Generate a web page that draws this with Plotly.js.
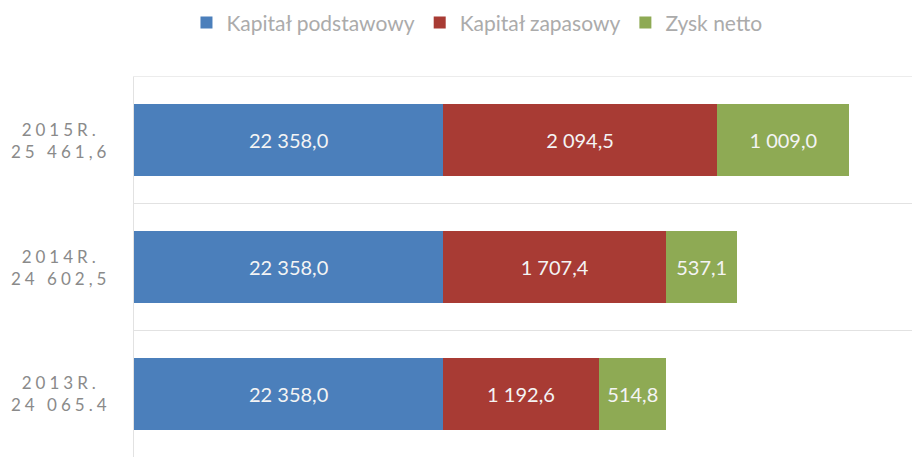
<!DOCTYPE html>
<html>
<head>
<meta charset="utf-8">
<script src="https://cdn.plot.ly/plotly-3.0.1.min.js"></script>
<style>
  html, body { margin: 0; padding: 0; background: #ffffff; }
  #chart { width: 912px; height: 457px; }
  g.annotation[data-index="3"] text.annotation-text,
  g.annotation[data-index="4"] text.annotation-text,
  g.annotation[data-index="5"] text.annotation-text { letter-spacing: 4px; }
</style>
</head>
<body>
<div id="chart"></div>
<script>
// ---- data ----
const years = ['2013R.', '2014R.', '2015R.'];
const totals = ['24 065.4', '24 602,5', '25 461,6'];
const kapitalPodstawowy = [22358.0, 22358.0, 22358.0];
const kapitalZapasowy = [1192.6, 1707.4, 2094.5];
const zyskNetto = [514.8, 537.1, 1009.0];
const seriesNames = ['Kapitał podstawowy', 'Kapitał zapasowy', 'Zysk netto'];
const colors = ['#4b7fbb', '#a83b34', '#8eaa54'];

// truncated value axis (the picture starts the axis well above zero)
const xRange = [20000, 25940];

function fmtPL(v) {
  const parts = v.toFixed(1).split('.');
  const intPart = parts[0].replace(/\B(?=(\d{3})+(?!\d))/g, ' ');
  return intPart + ',' + parts[1];
}

const textFont = { family: 'Lato, "Open Sans", sans-serif', size: 20, color: '#f4f4f4' };

const traces = [
  {
    type: 'bar', orientation: 'h', name: seriesNames[0],
    y: years, x: kapitalPodstawowy,
    marker: { color: colors[0] },
    textposition: 'none', hoverinfo: 'x+name'
  },
  {
    type: 'bar', orientation: 'h', name: seriesNames[1],
    y: years, x: kapitalZapasowy,
    marker: { color: colors[1] },
    text: kapitalZapasowy.map(fmtPL), textposition: 'inside',
    insidetextanchor: 'middle', textfont: textFont, constraintext: 'none'
  },
  {
    type: 'bar', orientation: 'h', name: seriesNames[2],
    y: years, x: zyskNetto,
    marker: { color: colors[2] },
    text: zyskNetto.map(fmtPL), textposition: 'inside',
    insidetextanchor: 'middle', textfont: textFont, constraintext: 'none'
  }
];

// labels for the truncated first segment, centred in its visible part
const valueAnnotations = years.map((y, i) => ({
  x: (xRange[0] + kapitalPodstawowy[i]) / 2,
  y: y, xref: 'x', yref: 'y',
  text: fmtPL(kapitalPodstawowy[i]),
  showarrow: false,
  font: textFont
}));

// category labels (year + total), centred in the left margin
const yearAnnotations = years.map((y, i) => ({
  x: -0.094, xref: 'paper', y: y, yref: 'y',
  xanchor: 'center', yanchor: 'middle', align: 'center',
  text: y + '<br>' + totals[i],
  showarrow: false,
  font: { family: 'Lato, "Open Sans", sans-serif', size: 17, color: '#8a8a8a' }
}));

const layout = {
  width: 912, height: 457,
  margin: { l: 134, r: 0, t: 77, b: 0 },
  paper_bgcolor: '#ffffff', plot_bgcolor: '#ffffff',
  separators: ', ',
  barmode: 'stack',
  bargap: 0.43,
  showlegend: true,
  legend: {
    orientation: 'h', xref: 'container', yref: 'container',
    x: 0.523, xanchor: 'center', y: 0.995, yanchor: 'top',
    font: { family: 'Lato, "Open Sans", sans-serif', size: 21, color: '#ababab' },
    traceorder: 'normal', itemwidth: 30
  },
  xaxis: {
    range: xRange, showgrid: false, zeroline: false,
    showticklabels: false, ticks: '',
    showline: true, mirror: true, linecolor: '#ececec', linewidth: 1.5
  },
  yaxis: {
    type: 'category', categoryorder: 'array', categoryarray: years,
    range: [-0.5, 2.5],
    tickson: 'boundaries', ticks: '', showgrid: true, showticklabels: false,
    gridcolor: '#e2e2e2', gridwidth: 1.5,
    showline: true, linecolor: '#e2e2e2', linewidth: 1.5
  },
  annotations: valueAnnotations.concat(yearAnnotations)
};

Plotly.newPlot('chart', traces, layout, { displayModeBar: false, staticPlot: true });
</script>
</body>
</html>
